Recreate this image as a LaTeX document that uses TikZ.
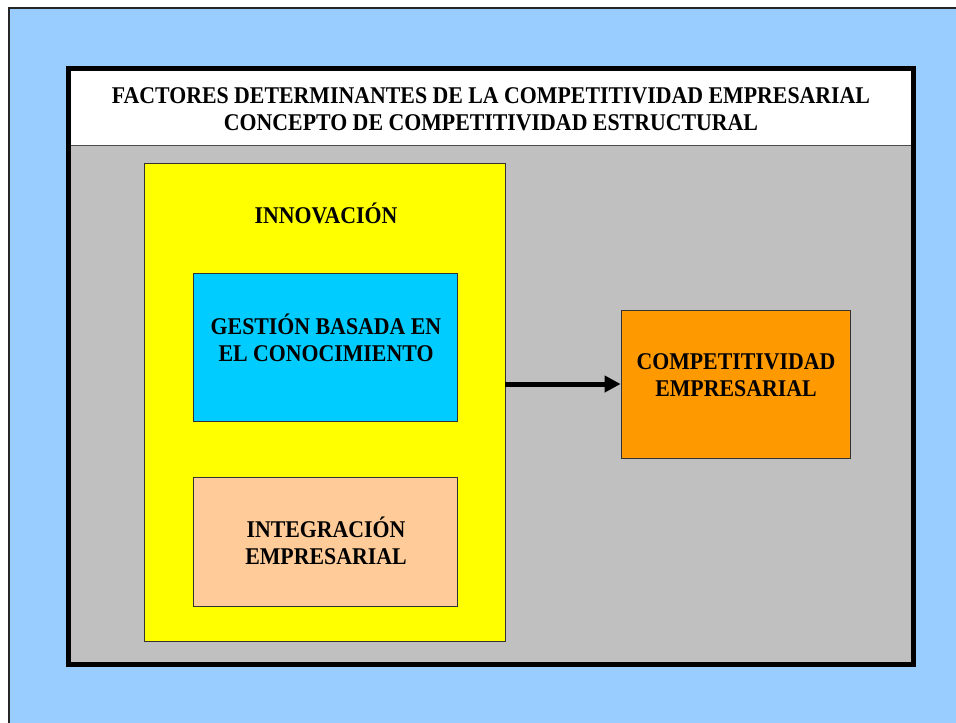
\documentclass[tikz,border=0pt]{standalone}
\usepackage{fontspec}
\setmainfont{Liberation Serif}[FakeStretch=0.91]
\usetikzlibrary{arrows.meta}
\definecolor{skyblue}{HTML}{99CCFF}
\definecolor{panelgray}{HTML}{C0C0C0}
\definecolor{boxyellow}{HTML}{FFFF00}
\definecolor{boxcyan}{HTML}{00CCFF}
\definecolor{boxpeach}{HTML}{FFCC99}
\definecolor{boxorange}{HTML}{FF9900}
\begin{document}
\begin{tikzpicture}[x=1pt,y=-1pt]
\tikzstyle{panel} = [draw=black!80,line width=0.8pt,inner sep=0pt];
\tikzstyle{caption} = [font=\bfseries\fontsize{24}{27.5}\selectfont,align=center];
\tikzstyle{link} = [-{Triangle[length=16pt,width=16pt]},line width=5pt];

\useasboundingbox (0,0) rectangle (956,723);
\fill [skyblue,draw=black!85,line width=1.5pt] (9,8) rectangle (990,760);

% frame
\fill [panelgray] (68,68) rectangle (913,664);
\fill [white] (68,68) rectangle (913,145);
\draw [black!70,line width=1pt] (68,145) -- (913,145);
\draw [line width=5pt] (68.5,68.5) rectangle (913.5,664.5);
\node [caption] (title) at (491,109) {FACTORES DETERMINANTES DE LA COMPETITIVIDAD EMPRESARIAL\\CONCEPTO DE COMPETITIVIDAD ESTRUCTURAL};

\node [panel,fill=boxyellow,minimum width=361pt,minimum height=478pt] (innov) at (324.5,402) {};
\node [caption] (innovtxt) at (326,213) {INNOVACIÓN};
\node [panel,fill=boxcyan,minimum width=264pt,minimum height=148pt] (gestion) at (325,347) {};
\node [caption] (gestiontxt) at (326,338) {GESTIÓN BASADA EN\\EL CONOCIMIENTO};
\node [panel,fill=boxpeach,minimum width=264pt,minimum height=129pt] (integ) at (325,541.5) {};
\node [caption] (integtxt) at (326,541) {INTEGRACIÓN\\EMPRESARIAL};
\node [panel,fill=boxorange,minimum width=229pt,minimum height=148pt] (compet) at (735.5,384) {};
\node [caption] (compettxt) at (736,375) {COMPETITIVIDAD\\EMPRESARIAL};

\draw [link] (compet.west -| innov.east) -- (compet.west);
\end{tikzpicture}
\end{document}
